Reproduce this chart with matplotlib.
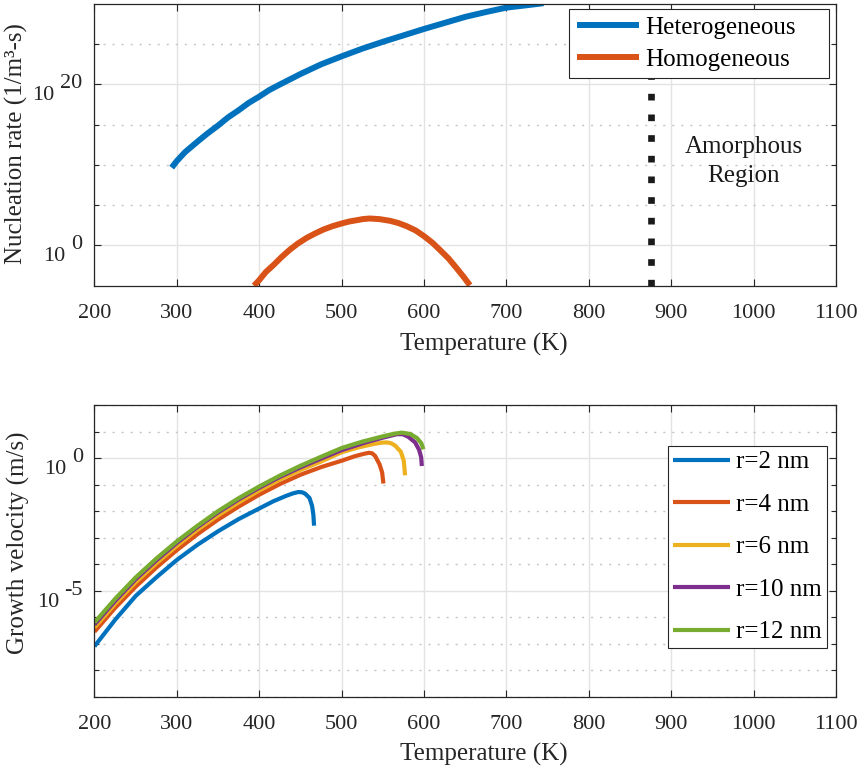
import matplotlib
matplotlib.use("Agg")
import matplotlib.pyplot as plt
import numpy as np

plt.rcParams["font.family"] = ["Liberation Serif", "DejaVu Serif"]
plt.rcParams["font.size"] = 18
TICK_SIZE = 16

# ---- data (temperature in K, rates as log10 values) ----
het_T = [293.7, 300, 310, 325, 337, 350, 362, 375, 387, 400, 412, 425, 450, 475, 500,
         525, 550, 575, 600, 625, 650, 675, 700, 725, 745]
het_log = [9.67, 10.5, 11.6, 12.9, 13.9, 14.9, 15.9, 16.8, 17.7, 18.5, 19.3, 20.0, 21.3,
           22.5, 23.5, 24.45, 25.3, 26.1, 26.9, 27.65, 28.4, 29.0, 29.55, 29.85, 30.1]

hom_T = [393.6, 400, 408, 417.2, 427, 437.4, 447, 457.7, 468, 477.9, 489, 500, 509, 518.4,
         526, 534, 546, 558.8, 569, 579, 590, 600, 610, 619.5, 630, 639.8, 648, 655.7]
hom_log = [-5.0, -4.3, -3.3, -2.44, -1.45, -0.5, 0.25, 0.95, 1.5, 1.98, 2.4, 2.73, 2.97, 3.14,
           3.28, 3.35, 3.27, 3.06, 2.78, 2.39, 1.85, 1.15, 0.35, -0.58, -1.65, -2.86, -3.9, -4.95]

amorphous_T = 875

radii = ["r=2 nm", "r=4 nm", "r=6 nm", "r=10 nm", "r=12 nm"]
vel_T = [
    [200, 225, 250, 275, 300, 325, 350, 375, 400, 417, 433, 441, 447.5, 452, 455.6, 460.9,
     464.1, 465.7, 466.5],
    [200, 225, 250, 275, 300, 325, 350, 375, 400, 425, 450, 475, 500, 516, 527, 533, 537,
     540.6, 545.9, 549.1, 550.7],
    [200, 225, 250, 275, 300, 325, 350, 375, 400, 425, 450, 475, 500, 520, 538.6, 548, 555,
     560, 564.9, 571.8, 575.4, 577],
    [200, 225, 250, 275, 300, 325, 350, 375, 400, 425, 450, 475, 500, 530, 550, 567, 574,
     581, 589.2, 594, 596.5, 597.3],
    [200, 225, 250, 275, 300, 325, 350, 375, 400, 425, 450, 475, 500, 525, 550, 564, 573,
     583.1, 591.2, 596.5, 599.3],
]
vel_log = [
    [-7.1, -6.1, -5.2, -4.5, -3.84, -3.27, -2.76, -2.3, -1.9, -1.63, -1.42, -1.33, -1.28,
     -1.29, -1.34, -1.5, -1.8, -2.15, -2.55],
    [-6.55, -5.65, -4.85, -4.13, -3.47, -2.87, -2.32, -1.83, -1.38, -0.98, -0.63, -0.34,
     -0.1, 0.07, 0.16, 0.2, 0.18, 0.08, -0.23, -0.54, -0.96],
    [-6.39, -5.5, -4.68, -3.97, -3.31, -2.7, -2.16, -1.67, -1.22, -0.81, -0.45, -0.13, 0.22,
     0.4, 0.53, 0.58, 0.59, 0.56, 0.47, 0.24, -0.1, -0.65],
    [-6.28, -5.39, -4.57, -3.86, -3.2, -2.6, -2.05, -1.56, -1.12, -0.71, -0.35, -0.02, 0.3,
     0.6, 0.77, 0.9, 0.9, 0.8, 0.59, 0.31, 0.03, -0.3],
    [-6.2, -5.31, -4.5, -3.79, -3.14, -2.55, -2.0, -1.51, -1.07, -0.66, -0.29, 0.05, 0.38,
     0.62, 0.82, 0.92, 0.96, 0.91, 0.76, 0.57, 0.33],
]

temp_ticks = list(range(200, 1101, 100))
colors = ["#0072BD", "#D95319", "#EDB120", "#7E2F8E", "#77AC30"]
AX_COLOR = "#262626"


def style_axes(ax, major_exp, minor_exp, ylim):
    ax.set_yscale("log")
    ax.set_xlim(200, 1100)
    ax.set_ylim(*ylim)
    ax.set_xticks(temp_ticks)
    ax.set_yticks([10.0 ** e for e in major_exp])
    ax.set_yticks([10.0 ** e for e in minor_exp], minor=True)
    ax.tick_params(axis="both", which="both", direction="in", top=True, right=True,
                   color=AX_COLOR, labelcolor=AX_COLOR, labelsize=TICK_SIZE)
    ax.tick_params(axis="both", which="major", length=5, width=0.8)
    ax.tick_params(axis="y", which="minor", length=3.5, width=0.8)
    ax.tick_params(axis="x", which="major", pad=13)
    ax.tick_params(axis="y", labelleft=False, which="both")
    ax.grid(True, which="major", color="#e3e3e3", linewidth=1.0, linestyle="-")
    ax.grid(True, which="minor", axis="y", color="#c4c4c4", linewidth=1.0, linestyle=(0, (1.5, 5)))
    ax.set_axisbelow(True)
    for s in ax.spines.values():
        s.set_color(AX_COLOR)
        s.set_linewidth(0.9)
    ax.set_xlabel("Temperature (K)", color=AX_COLOR)


def power_labels(ax, fig, exps, right_px):
    renderer = fig.canvas.get_renderer()
    for e in exps:
        y = 10.0 ** e
        sup = ax.annotate(str(e), xy=(0, y), xycoords=("axes fraction", "data"),
                          xytext=(right_px, -4), textcoords="offset pixels",
                          ha="right", va="baseline", color=AX_COLOR, fontsize=TICK_SIZE,
                          annotation_clip=False)
        w = sup.get_window_extent(renderer).width
        ax.annotate("10", xy=(0, y), xycoords=("axes fraction", "data"),
                    xytext=(right_px - w - 5, -16), textcoords="offset pixels",
                    ha="right", va="baseline", color=AX_COLOR, fontsize=TICK_SIZE,
                    annotation_clip=False)


fig = plt.figure(figsize=(8.58, 7.68), dpi=100)
ax1 = fig.add_axes([0.1101, 0.628, 0.8643, 0.3668])
ax2 = fig.add_axes([0.1101, 0.0928, 0.8643, 0.3798])

# ---- top: nucleation rate ----
style_axes(ax1, [0, 20], [5, 10, 15, 25], (1e-5, 1e30))
ax1.plot(het_T, 10.0 ** np.array(het_log), color=colors[0], lw=4.3,
         solid_capstyle="butt", solid_joinstyle="round", label="Heterogeneous")
ax1.plot(hom_T, 10.0 ** np.array(hom_log), color=colors[1], lw=4.3,
         solid_capstyle="butt", solid_joinstyle="round", label="Homogeneous")
ax1.axvline(amorphous_T, color="#1a1a1a", lw=4.8, linestyle=(0, (1.0, 2.1)),
            dash_capstyle="butt")
ax1.text(988, 10.0 ** 10.4, "Amorphous\nRegion", ha="center", va="center",
         linespacing=1.4, color="#1a1a1a")
ax1.set_ylabel("Nucleation rate (1/m³-s)", color=AX_COLOR)
ax1.yaxis.set_label_coords(-0.09, 0.503)
ax1.xaxis.set_label_coords(0.525, -0.168)
leg1 = ax1.legend(loc="upper right", bbox_to_anchor=(0.640, 0, 0.3506, 1 - 5 / 281.7),
                  mode="expand", borderaxespad=0, fancybox=False, framealpha=1,
                  edgecolor=AX_COLOR, handlelength=2.5, handletextpad=0.25,
                  labelspacing=0.37, borderpad=0.3)
leg1.get_frame().set_linewidth(0.8)
leg1.set_zorder(10)

# ---- bottom: growth velocity ----
style_axes(ax2, [-5, 0], [-9, -8, -7, -6, -4, -3, -2, -1, 1, 2], (1e-9, 1e2))
for T, lv, lab, c in zip(vel_T, vel_log, radii, colors):
    ax2.plot(T, 10.0 ** np.array(lv), color=c, lw=3.0, solid_capstyle="butt",
             solid_joinstyle="round", label=lab)
ax2.set_ylabel("Growth velocity (m/s)", color=AX_COLOR)
ax2.yaxis.set_label_coords(-0.087, 0.529)
ax2.xaxis.set_label_coords(0.525, -0.158)
leg2 = ax2.legend(loc="center right", bbox_to_anchor=(1 - 9 / 741.5, 0.513),
                  borderaxespad=0, fancybox=False, framealpha=1, edgecolor=AX_COLOR,
                  handlelength=2.3, handletextpad=0.25, labelspacing=0.8,
                  borderpad=0.2)
leg2.get_frame().set_linewidth(0.8)

power_labels(ax1, fig, [0, 20], -12.5)
power_labels(ax2, fig, [-5, 0], -11.5)

fig.savefig("out.png", dpi=100)
plt.close(fig)
